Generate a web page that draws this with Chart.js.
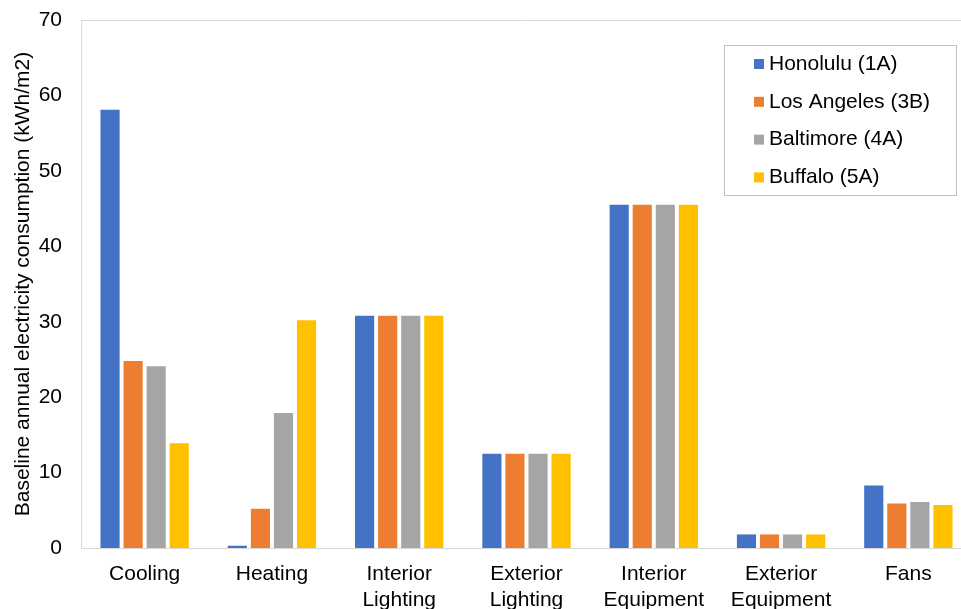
<!DOCTYPE html>
<html>
<head>
<meta charset="utf-8">
<script src="https://cdn.jsdelivr.net/npm/chart.js@4/dist/chart.umd.min.js"></script>
<style>
  html, body { margin: 0; padding: 0; background: #fff; overflow: hidden; }
  #wrap { position: relative; width: 975px; height: 609px; }
</style>
</head>
<body>
<div id="wrap"><canvas id="c"></canvas></div>
<script>
const categories = [
  ['Cooling'], ['Heating'], ['Interior', 'Lighting'], ['Exterior', 'Lighting'],
  ['Interior', 'Equipment'], ['Exterior', 'Equipment'], ['Fans']
];
const seriesNames = ['Honolulu (1A)', 'Los Angeles (3B)', 'Baltimore (4A)', 'Buffalo (5A)'];
const honolulu   = [58.1, 0.3, 30.8, 12.5, 45.5, 1.8, 8.3];
const losAngeles = [24.8, 5.2, 30.8, 12.5, 45.5, 1.8, 5.9];
const baltimore  = [24.1, 17.9, 30.8, 12.5, 45.5, 1.8, 6.1];
const buffalo    = [13.9, 30.2, 30.8, 12.5, 45.5, 1.8, 5.7];
const yTicks = [0, 10, 20, 30, 40, 50, 60, 70];
const colors = ['#4472C4', '#ED7D31', '#A5A5A5', '#FFC000'];
const FONT = 'Liberation Sans, Arial, sans-serif';

const seriesValues = [honolulu, losAngeles, baltimore, buffalo];

const frameAndLegend = {
  id: 'frameAndLegend',
  beforeDatasetsDraw(chart) {
    const { ctx, chartArea: a } = chart;
    ctx.save();
    ctx.strokeStyle = '#d9d9d9';
    ctx.lineWidth = 1;
    ctx.beginPath();
    ctx.moveTo(a.left, a.top + 0.5);
    ctx.lineTo(a.right, a.top + 0.5);
    ctx.stroke();
    ctx.restore();
  },
  afterDraw(chart) {
    const { ctx } = chart;
    const boxX = 724.5, boxY = 45.5, boxW = 232, boxH = 150;
    ctx.save();
    ctx.fillStyle = '#fff';
    ctx.fillRect(boxX, boxY, boxW, boxH);
    ctx.strokeStyle = '#bfbfbf';
    ctx.lineWidth = 1;
    ctx.strokeRect(boxX, boxY, boxW, boxH);
    ctx.font = '21px ' + FONT;
    ctx.textBaseline = 'middle';
    ctx.textAlign = 'left';
    chart.data.datasets.forEach((ds, i) => {
      const cy = 64 + i * 37.8;
      ctx.fillStyle = ds.backgroundColor;
      ctx.fillRect(754, cy - 5, 10, 10);
      ctx.fillStyle = '#000';
      ctx.fillText(ds.label, 769, cy);
    });
    ctx.restore();
  }
};

new Chart(document.getElementById('c'), {
  type: 'bar',
  data: {
    labels: categories,
    datasets: seriesNames.map((name, i) => ({
      label: name,
      data: seriesValues[i],
      backgroundColor: colors[i],
      barPercentage: 0.83,
      categoryPercentage: 0.725
    }))
  },
  options: {
    responsive: true,
    maintainAspectRatio: false,
    animation: false,
    devicePixelRatio: 1,
    layout: { autoPadding: false, padding: { top: 20, right: 3, left: 0, bottom: 0 } },
    plugins: { legend: { display: false }, tooltip: { enabled: false } },
    scales: {
      x: {
        grid: { display: false, drawTicks: false },
        border: { display: true, color: '#d9d9d9', width: 1 },
        ticks: { color: '#000', font: { family: FONT, size: 21 }, padding: 14, maxRotation: 0, autoSkip: false },
        afterFit(s) { s.height = 61; s.paddingLeft = 0; s.paddingRight = 0; }
      },
      y: {
        min: 0, max: 70,
        afterBuildTicks(s) { s.ticks = yTicks.map(v => ({ value: v })); },
        grid: { display: false, drawTicks: false },
        border: { display: true, color: '#d9d9d9', width: 1 },
        ticks: { color: '#000', font: { family: FONT, size: 21 }, padding: 19 },
        title: {
          display: true,
          text: 'Baseline annual electricity consumption (kWh/m2)',
          color: '#000',
          font: { family: FONT, size: 21 },
          padding: { top: 11, bottom: 0 }
        },
        afterFit(s) { s.width = 81; s.paddingTop = 0; s.paddingBottom = 0; }
      }
    }
  },
  plugins: [frameAndLegend]
});
</script>
</body>
</html>
